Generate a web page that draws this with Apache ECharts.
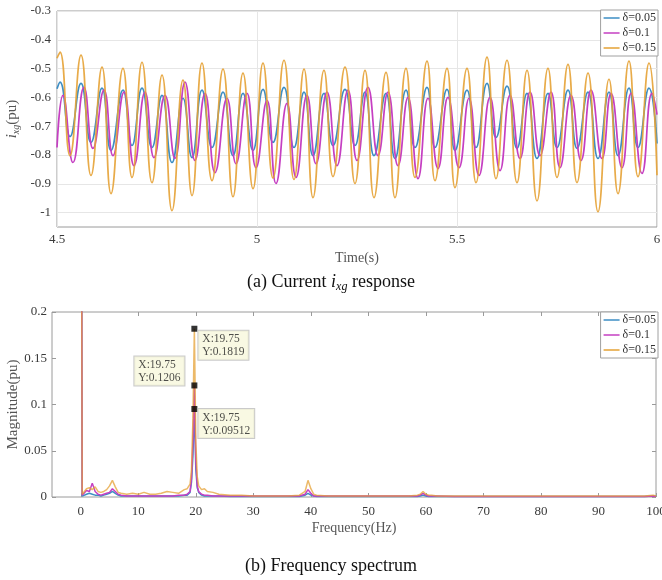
<!DOCTYPE html>
<html>
<head>
<meta charset="utf-8">
<script src="https://cdn.jsdelivr.net/npm/echarts@6/dist/echarts.min.js"></script>
<style>
  html, body { margin: 0; padding: 0; background: #fff; }
  #main { width: 662px; height: 580px; }
</style>
</head>
<body>
<div id="main"></div>
<script>
// ---- (a) time response: peak / trough points ----
var seriesNames = ['δ=0.05', 'δ=0.1', 'δ=0.15'];
var colors = ['#3d8ec4', '#c53fc2', '#e5a235'];

// times shared by δ=0.05 and δ=0.15 (start, peak/trough pairs, end)
var tBlueOrange = [4.5, 4.5075, 4.5325, 4.56, 4.585, 4.6125, 4.635, 4.665, 4.6875, 4.7125, 4.7375,
  4.7625, 4.7875, 4.815, 4.8375, 4.8625, 4.8875, 4.915, 4.94, 4.965, 4.99,
  5.015, 5.04, 5.0675, 5.0925, 5.1175, 5.14, 5.1675, 5.19, 5.22, 5.245,
  5.27, 5.2925, 5.3225, 5.345, 5.3725, 5.395, 5.425, 5.445, 5.475, 5.495,
  5.525, 5.5475, 5.575, 5.5975, 5.625, 5.65, 5.675, 5.70, 5.7275, 5.75,
  5.7775, 5.80, 5.8275, 5.8525, 5.88, 5.9025, 5.93, 5.9525, 5.98, 6.0];
var vBlue = [-0.57, -0.547, -0.736, -0.551, -0.756, -0.568, -0.784, -0.575, -0.767, -0.568, -0.774,
  -0.593, -0.826, -0.603, -0.809, -0.575, -0.774, -0.582, -0.802, -0.586, -0.784,
  -0.572, -0.756, -0.565, -0.774, -0.582, -0.802, -0.586, -0.767, -0.572, -0.767,
  -0.582, -0.802, -0.586, -0.812, -0.575, -0.774, -0.565, -0.774, -0.572, -0.784,
  -0.575, -0.774, -0.551, -0.739, -0.561, -0.777, -0.586, -0.812, -0.586, -0.774,
  -0.575, -0.777, -0.582, -0.812, -0.582, -0.802, -0.568, -0.774, -0.568, -0.76];
var vOrange = [-0.464, -0.443, -0.802, -0.453, -0.871, -0.495, -0.934, -0.499, -0.878, -0.478, -0.896,
  -0.523, -0.993, -0.540, -0.941, -0.481, -0.889, -0.502, -0.945, -0.516, -0.917,
  -0.481, -0.88, -0.471, -0.885, -0.502, -0.948, -0.506, -0.875, -0.495, -0.899,
  -0.506, -0.948, -0.513, -0.948, -0.499, -0.878, -0.474, -0.889, -0.499, -0.913,
  -0.499, -0.896, -0.460, -0.882, -0.471, -0.896, -0.506, -0.959, -0.499, -0.878,
  -0.485, -0.896, -0.516, -0.997, -0.537, -0.934, -0.474, -0.875, -0.481, -0.87];
var tMagenta = [4.5, 4.515, 4.54, 4.5675, 4.59, 4.6175, 4.64, 4.6675, 4.6925, 4.72, 4.7425,
  4.77, 4.795, 4.82, 4.845, 4.87, 4.895, 4.925, 4.9475, 4.975, 4.9975,
  5.025, 5.0475, 5.075, 5.0975, 5.125, 5.1475, 5.175, 5.2, 5.2275, 5.25,
  5.2775, 5.3025, 5.3275, 5.3525, 5.3775, 5.4025, 5.4275, 5.4525, 5.4775, 5.505,
  5.53, 5.555, 5.5825, 5.6075, 5.6325, 5.6575, 5.6825, 5.7075, 5.735, 5.7575,
  5.785, 5.81, 5.835, 5.8625, 5.885, 5.9125, 5.935, 5.9625, 5.9875, 6.0];
var vMagenta = [-0.774, -0.593, -0.826, -0.565, -0.777, -0.575, -0.802, -0.582, -0.837, -0.582, -0.809,
  -0.593, -0.812, -0.547, -0.819, -0.586, -0.861, -0.603, -0.830, -0.586, -0.844,
  -0.610, -0.899, -0.621, -0.878, -0.593, -0.830, -0.582, -0.837, -0.575, -0.819,
  -0.565, -0.802, -0.582, -0.837, -0.600, -0.882, -0.603, -0.847, -0.600, -0.844,
  -0.603, -0.871, -0.600, -0.854, -0.593, -0.812, -0.582, -0.802, -0.582, -0.844,
  -0.593, -0.819, -0.575, -0.812, -0.586, -0.844, -0.586, -0.864, -0.586, -0.66];
var yTicksA = [-1, -0.9, -0.8, -0.7, -0.6, -0.5, -0.4, -0.3];

// ---- (b) spectrum ----
var freqs = [0, 0.25, 0.5, 1, 1.5, 2, 2.5, 3, 3.5, 4,
  4.5, 5, 5.5, 6, 6.5, 7, 8, 9, 10, 11,
  12, 13, 14, 15, 16, 17, 18, 18.5, 19, 19.25,
  19.5, 19.75, 20, 20.25, 20.5, 21, 21.5, 22, 23, 24,
  26, 28, 30, 33, 36, 38, 39, 39.5, 40, 40.5,
  41, 43, 46, 50, 54, 57, 58.5, 59, 59.5, 60,
  60.5, 61, 62, 65, 70, 75, 80, 85, 90, 95,
  98, 99.5, 100];
var magBlue = [0.67, 0.001, 0.002, 0.003, 0.004, 0.003, 0.002, 0.002, 0.001, 0.002,
  0.003, 0.004, 0.006, 0.004, 0.002, 0.001, 0.001, 0.001, 0.001, 0.001,
  0.001, 0.001, 0.001, 0.001, 0.001, 0.001, 0.002, 0.002, 0.005, 0.016,
  0.045, 0.09512, 0.03, 0.01, 0.005, 0.002, 0.001, 0.001, 0.001, 0.001,
  0.0005, 0.0005, 0.0005, 0.0005, 0.0005, 0.0005, 0.002, 0.004, 0.002, 0.001,
  0.0005, 0.0005, 0.0005, 0.0005, 0.0005, 0.0005, 0.0005, 0.001, 0.002, 0.001,
  0.0005, 0.0005, 0.0005, 0.0005, 0.0005, 0.0005, 0.0005, 0.0005, 0.0005, 0.0005,
  0.0005, 0.001, 0.0005];
var magMagenta = [0.67, 0.002, 0.003, 0.007, 0.006, 0.015, 0.006, 0.003, 0.002, 0.003,
  0.004, 0.005, 0.009, 0.006, 0.003, 0.002, 0.001, 0.001, 0.001, 0.001,
  0.001, 0.001, 0.001, 0.001, 0.001, 0.002, 0.002, 0.003, 0.006, 0.02,
  0.06, 0.1206, 0.04, 0.012, 0.006, 0.003, 0.002, 0.002, 0.001, 0.001,
  0.001, 0.001, 0.001, 0.001, 0.001, 0.001, 0.003, 0.008, 0.004, 0.001,
  0.001, 0.001, 0.001, 0.001, 0.001, 0.001, 0.001, 0.002, 0.004, 0.002,
  0.001, 0.001, 0.001, 0.0005, 0.0005, 0.0005, 0.0005, 0.0005, 0.0005, 0.0005,
  0.0005, 0.001, 0.0005];
var magOrange = [0.67, 0.003, 0.005, 0.009, 0.010, 0.008, 0.011, 0.006, 0.005, 0.006,
  0.008, 0.012, 0.018, 0.011, 0.005, 0.004, 0.003, 0.004, 0.003, 0.005,
  0.003, 0.003, 0.004, 0.006, 0.005, 0.004, 0.008, 0.009, 0.014, 0.03,
  0.085, 0.1819, 0.06, 0.022, 0.012, 0.008, 0.009, 0.006, 0.005, 0.003,
  0.002, 0.002, 0.001, 0.001, 0.001, 0.002, 0.006, 0.018, 0.009, 0.003,
  0.002, 0.001, 0.001, 0.001, 0.001, 0.001, 0.002, 0.003, 0.006, 0.003,
  0.002, 0.002, 0.001, 0.001, 0.001, 0.001, 0.001, 0.001, 0.001, 0.001,
  0.001, 0.002, 0.001];
var xTicksB = [0, 10, 20, 30, 40, 50, 60, 70, 80, 90, 100];
var tipX = [19.75, 19.75, 19.75];
var tipY = [0.1819, 0.1206, 0.09512];

function zip(xs, ys) {
  var out = [];
  for (var i = 0; i < xs.length; i++) out.push([xs[i], ys[i]]);
  return out;
}

var serif = 'Liberation Serif';
var labelColor = '#3a3a3a';
var frameColor = '#9a9a9a';

var chart = echarts.init(document.getElementById('main'), null, { renderer: 'canvas' });

var tipOffsets = [[7, 5], [-57, -26], [7, 3]];
var tipData = [];
for (var k = 0; k < tipX.length; k++) {
  tipData.push({
    value: [tipX[k], tipY[k]],
    label: { position: tipOffsets[k] }
  });
}

var legendBase = {
  data: seriesNames,
  orient: 'vertical',
  right: 4,
  icon: 'rect',
  itemWidth: 16,
  itemHeight: 1.5,
  itemGap: 3,
  padding: [2, 2, 2, 3],
  backgroundColor: '#fff',
  borderColor: '#a0a0a0',
  borderWidth: 1,
  borderRadius: 0,
  textStyle: { fontFamily: serif, fontSize: 12, color: '#333', padding: [0, 0, 0, -2] }
};

var option = {
  animation: false,
  backgroundColor: '#fff',
  color: colors,
  legend: [
    Object.assign({ top: 10 }, legendBase),
    Object.assign({ top: 312 }, legendBase)
  ],
  grid: [
    { left: 57, top: 11, width: 600, height: 216, show: true, borderColor: frameColor, borderWidth: 1,
      backgroundColor: '#fff', containLabel: false, outerBoundsMode: 'none' },
    { left: 52, top: 312, width: 604, height: 185, show: true, borderColor: frameColor, borderWidth: 1,
      backgroundColor: '#fff', containLabel: false, outerBoundsMode: 'none' }
  ],
  xAxis: [
    {
      type: 'value', gridIndex: 0, min: 4.5, max: 6, interval: 0.5,
      name: 'Time(s)', nameLocation: 'middle', nameGap: 24, nameMoveOverlap: false,
      nameTextStyle: { fontFamily: serif, fontSize: 14, color: '#555' },
      axisLine: { show: false, onZero: false }, axisTick: { show: false },
      axisLabel: { fontFamily: serif, fontSize: 13, color: labelColor, margin: 6 },
      splitLine: { show: true, lineStyle: { color: '#e6e6e6', width: 1 } }
    },
    {
      type: 'value', gridIndex: 1, min: -5, max: 100,
      name: 'Frequency(Hz)', nameLocation: 'middle', nameGap: 24, nameMoveOverlap: false,
      nameTextStyle: { fontFamily: serif, fontSize: 14, color: '#555' },
      axisLine: { show: false, onZero: false },
      axisTick: { inside: true, length: 4, customValues: xTicksB, lineStyle: { color: frameColor } },
      axisLabel: { fontFamily: serif, fontSize: 13, color: labelColor, margin: 8, customValues: xTicksB },
      splitLine: { show: false }
    },
    {
      type: 'value', gridIndex: 1, position: 'top', min: -5, max: 100,
      axisLine: { show: false, onZero: false },
      axisTick: { inside: true, length: 4, customValues: xTicksB, lineStyle: { color: frameColor } },
      axisLabel: { show: false },
      splitLine: { show: false }
    }
  ],
  yAxis: [
    {
      type: 'value', gridIndex: 0, min: -1.05, max: -0.3,
      name: '{i|i}{s|xg}{n|(pu)}', nameLocation: 'middle', nameGap: 36, nameMoveOverlap: false,
      nameTextStyle: {
        fontFamily: serif, fontSize: 15, color: '#555',
        rich: {
          i: { fontFamily: serif, fontStyle: 'italic', fontSize: 15, color: '#555' },
          s: { fontFamily: serif, fontStyle: 'italic', fontSize: 10, color: '#555', padding: [8, 0, 0, 0] },
          n: { fontFamily: serif, fontSize: 15, color: '#555' }
        }
      },
      axisLine: { show: false, onZero: false },
      axisTick: { show: false, customValues: yTicksA },
      axisLabel: { fontFamily: serif, fontSize: 13, color: labelColor, margin: 6, customValues: yTicksA },
      splitLine: { show: true, lineStyle: { color: '#e6e6e6', width: 1 } }
    },
    {
      type: 'value', gridIndex: 1, min: 0, max: 0.2, interval: 0.05,
      name: 'Magnitude(pu)', nameLocation: 'middle', nameGap: 31, nameMoveOverlap: false,
      nameTextStyle: { fontFamily: serif, fontSize: 15, color: '#555' },
      axisLine: { show: false, onZero: false },
      axisTick: { inside: true, length: 4, lineStyle: { color: frameColor } },
      axisLabel: { fontFamily: serif, fontSize: 13, color: labelColor, margin: 5 },
      splitLine: { show: false }
    },
    {
      type: 'value', gridIndex: 1, position: 'right', min: 0, max: 0.2, interval: 0.05,
      axisLine: { show: false, onZero: false },
      axisTick: { inside: true, length: 4, lineStyle: { color: frameColor } },
      axisLabel: { show: false },
      splitLine: { show: false }
    }
  ],
  series: [
    {
      name: seriesNames[0], type: 'line', xAxisIndex: 0, yAxisIndex: 0,
      data: zip(tBlueOrange, vBlue), smooth: 0.5, showSymbol: false,
      lineStyle: { width: 1.7, color: colors[0] }, emphasis: { disabled: true }
    },
    {
      name: seriesNames[1], type: 'line', xAxisIndex: 0, yAxisIndex: 0,
      data: zip(tMagenta, vMagenta), smooth: 0.5, showSymbol: false,
      lineStyle: { width: 1.7, color: colors[1] }, emphasis: { disabled: true }
    },
    {
      name: seriesNames[2], type: 'line', xAxisIndex: 0, yAxisIndex: 0,
      data: zip(tBlueOrange, vOrange), smooth: 0.5, showSymbol: false,
      lineStyle: { width: 1.7, color: colors[2], opacity: 0.9 }, emphasis: { disabled: true }
    },
    {
      name: seriesNames[0], type: 'line', xAxisIndex: 1, yAxisIndex: 1,
      data: zip(freqs, magBlue), showSymbol: false,
      lineStyle: { width: 1.5, color: colors[0] }, emphasis: { disabled: true }
    },
    {
      name: seriesNames[1], type: 'line', xAxisIndex: 1, yAxisIndex: 1,
      data: zip(freqs, magMagenta), showSymbol: false,
      lineStyle: { width: 1.5, color: colors[1] }, emphasis: { disabled: true }
    },
    {
      name: seriesNames[2], type: 'line', xAxisIndex: 1, yAxisIndex: 1,
      data: zip(freqs, magOrange), showSymbol: false,
      lineStyle: { width: 1.5, color: colors[2], opacity: 0.75 }, emphasis: { disabled: true }
    },
    {
      name: 'datatip', type: 'scatter', xAxisIndex: 1, yAxisIndex: 1, z: 5,
      symbol: 'rect', symbolSize: 6, silent: true,
      itemStyle: { color: '#000' },
      label: {
        show: true,
        formatter: function (p) { return 'X:' + p.value[0] + '\nY:' + p.value[1]; },
        fontFamily: serif, fontSize: 11.5, lineHeight: 13, color: '#222',
        backgroundColor: '#f8f8dc', borderColor: '#bdbdbd', borderWidth: 1,
        padding: [2, 4, 1, 4], align: 'left', verticalAlign: 'top'
      },
      data: tipData
    }
  ],
  graphic: [
    {
      type: 'text', left: 'center', top: 273,
      style: {
        text: '{n|(a) Current }{i|i}{s|xg}{n| response}',
        rich: {
          n: { fontFamily: serif, fontSize: 18, fill: '#111' },
          i: { fontFamily: serif, fontStyle: 'italic', fontSize: 18, fill: '#111' },
          s: { fontFamily: serif, fontStyle: 'italic', fontSize: 12, fill: '#111', padding: [9, 0, 0, 0] }
        }
      }
    },
    {
      type: 'text', left: 'center', top: 557,
      style: { text: '(b) Frequency spectrum', fontFamily: serif, fontSize: 18, fill: '#111' }
    }
  ]
};

chart.setOption(option);
</script>
</body>
</html>
